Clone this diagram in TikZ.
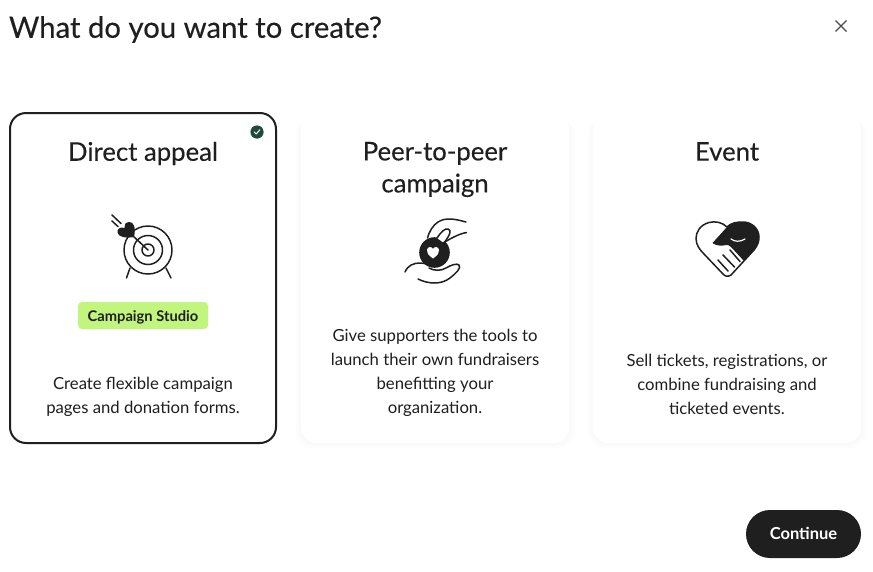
\documentclass[tikz,border=0pt]{standalone}
\usepackage{fontspec}
\setmainfont{Lato}
\usetikzlibrary{positioning}
\definecolor{inkdark}{HTML}{1F1F1F}
\definecolor{checkgreen}{HTML}{1F4A3A}
\definecolor{badgegreen}{HTML}{C1F57E}
\tikzstyle{cardtitle} = [text=inkdark, font=\fontsize{25.7}{32}\selectfont\addfontfeatures{FakeBold=0.25}, align=center]
\tikzstyle{cardtext}  = [text=inkdark, font=\fontsize{16.7}{24}\selectfont, align=center]
\tikzstyle{iconline}  = [draw=inkdark, line width=1.5pt, line cap=round, line join=round]
\tikzstyle{iconfill}  = [fill=inkdark, draw=none]
\begin{document}
\begin{tikzpicture}[x=1pt,y=-1pt]
        \useasboundingbox[fill=white] (0,0) rectangle (873,571);

        \node[anchor=west, text=inkdark, font=\fontsize{29.3}{32}\selectfont\addfontfeatures{FakeBold=0.25}] (title) at (5.5,29.5) {What do you want to create?};
        \draw[draw=inkdark!80, line width=1.2pt] (835.5,20.5) -- (846.5,31.5);
        \draw[draw=inkdark!80, line width=1.2pt] (846.5,20.5) -- (835.5,31.5);

        % soft shadows
        \foreach \s in {1,2,...,6} {
            \fill[black, opacity=0.005, rounded corners=17pt] (301-\s,113+\s) rectangle (569+\s,443+\s);
            \fill[black, opacity=0.005, rounded corners=17pt] (593-\s,113+\s) rectangle (861+\s,443+\s);
        }
        \draw[fill=white, draw=white, rounded corners=16pt] (301,113) rectangle (569,443);
        \draw[fill=white, draw=white, rounded corners=16pt] (593,113) rectangle (861,443);
        \draw[fill=white, draw=inkdark, line width=2pt, rounded corners=16pt] (10,113) rectangle (276,443);

        % first card
        \fill[checkgreen] (257,132) circle (6.6);
        \draw[white, line width=1pt, line cap=round, line join=round] (254.3,132) -- (256.2,134) -- (259.8,129.8);
        \node[cardtitle] (appeal) at (143,153.5) {Direct appeal};
        \foreach \r in {24,14.5,6} {
            \draw[iconline] (148,250) circle (\r);
        }
        \draw[iconline] (130,268) -- (126.5,278);
        \draw[iconline] (166,268) -- (171,278);
        \draw[iconline] (148,250) -- (132,235);
        \draw[iconline] (112,215) -- (121,223.5);
        \draw[iconline] (112,221) -- (118,226.5);
        \fill[iconfill] (134,237) .. controls (136,228) and (134,221.5) .. (129,222)
            .. controls (125,222.5) and (124,225) .. (124.5,228)
            .. controls (120,226.5) and (117,229) .. (117.5,232.5)
            .. controls (118,237) and (126,238.5) .. (134,237) -- cycle;
        \fill[badgegreen, rounded corners=4pt] (78,302) rectangle (208,329);
        \node[text=inkdark, font=\fontsize{14.7}{16}\selectfont\bfseries] (studio) at (143,317) {Campaign Studio};
        \node[cardtext] (appealtext) at (143,396.5) {Create flexible campaign\\pages and donation forms.};

        % second card
        \node[cardtitle] (peer) at (435,169.5) {Peer-to-peer\\campaign};
        \fill[iconfill] (434.5,252.5) circle (15.3);
        \fill[white] (433,258.5) .. controls (428,255) and (426.5,252.5) .. (427,250)
            .. controls (427.5,246.5) and (431.5,246) .. (433,249)
            .. controls (434.5,246) and (438.5,246.5) .. (439,250)
            .. controls (439.5,252.5) and (438,255) .. (433,258.5) -- cycle;
        \draw[iconline] (466,222) .. controls (455,219) and (446,217) .. (438,222)
            .. controls (433,225) and (429,232) .. (427.5,238);
        \draw[iconline, fill=white] (437,238) .. controls (441,232) and (445,228) .. (448,229)
            .. controls (452,230) and (450,235) .. (444,243);
        \draw[iconline] (466.5,232.5) .. controls (458,234) and (450,239) .. (442,243.5);
        \draw[iconline] (405,272) .. controls (408,265) and (414,263) .. (420,263)
            .. controls (426,263) and (430,266) .. (437,264);
        \draw[iconline] (429,268) .. controls (434,271) and (441,271) .. (446,268)
            .. controls (451,265) and (457,263) .. (459,265)
            .. controls (462,268) and (455,274) .. (450,278)
            .. controls (441,285) and (428,284) .. (418,279);

        \node[cardtext] (peertext) at (435,372.5) {Give supporters the tools to\\launch their own fundraisers\\benefitting your\\organization.};

        % third card
        \node[cardtitle] (event) at (727,151.5) {Event};
        \draw[iconline, fill=white] (727,227) .. controls (722,222) and (715,221) .. (709,222.5)
            .. controls (700,225) and (696,232) .. (696,238.5)
            .. controls (696,245) and (700,250) .. (704,254)
            -- (723,274) .. controls (725,276.5) and (728,277) .. (731,275)
            -- (754,250) .. controls (758,245) and (759,241) .. (759,237)
            .. controls (759,229) and (752,222) .. (743,222)
            .. controls (736,222) and (731,223) .. (727,227) -- cycle;
        \fill[iconfill] (727,227) .. controls (731,223) and (736,222) .. (743,222)
            .. controls (752,222) and (759,229) .. (759,237)
            .. controls (759,241) and (758,245) .. (754,250)
            -- (744,261) -- (731,247) .. controls (728,244) and (726,245) .. (723,245.5)
            .. controls (719,246) and (715,245) .. (712.5,243) -- cycle;
        \draw[white, line width=1.2pt, line cap=round] (731,239) .. controls (735,242) and (740,242) .. (745,239);
        \draw[iconline] (718,260) -- (728,271);
        \draw[iconline] (723,255) -- (734.5,267);
        \draw[iconline] (730,250) -- (740,261.5);
        \node[cardtext] (eventtext) at (727,384.5) {Sell tickets, registrations, or\\combine fundraising and\\ticketed events.};

        % continue button
        \fill[inkdark, rounded corners=24pt] (746,510) rectangle (861,558);
        \node[text=white, font=\fontsize{16.5}{20}\selectfont\bfseries] (continue) at (803.5,533.5) {Continue};
\end{tikzpicture}
\end{document}
